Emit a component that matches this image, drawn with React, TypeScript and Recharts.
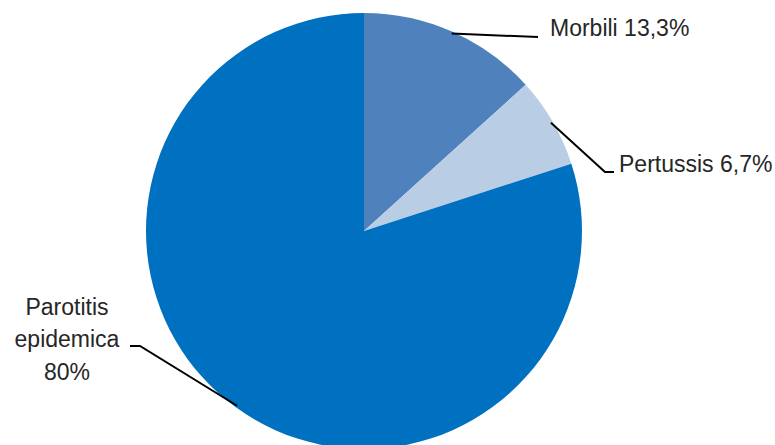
import { PieChart, Pie, Cell } from 'recharts';

// dati della torta
const categories = ['Morbili', 'Pertussis', 'Parotitis epidemica'];
const shares = [13.3, 6.7, 80];
const shareLabels = ['13,3%', '6,7%', '80%'];
const colors = ['#4F81BD', '#B9CDE5', '#0070C0'];

// posizione delle etichette rispetto al centro (px)
const labelLayout = [
  { elbow: [174, -194], tail: 0, textX: 186, lines: [[-195, 'Morbili 13,3%']], anchor: 'start' },
  { elbow: [241, -59], tail: 9, textX: 255, lines: [[-59, 'Pertussis 6,7%']], anchor: 'start' },
  {
    elbow: [-224, 115], tail: -10, textX: -297, anchor: 'middle',
    lines: [[84, 'Parotitis'], [116, 'epidemica'], [149, '80%']],
  },
];

const data = categories.map((name, i) => ({ name, value: shares[i], label: shareLabels[i] }));

const RADIAN = Math.PI / 180;

const renderLabel = (props: any) => {
  const { cx, cy, midAngle, outerRadius, index } = props;
  const lay = labelLayout[index];
  const r = outerRadius - 2;
  const sx = cx + r * Math.cos(-midAngle * RADIAN);
  const sy = cy + r * Math.sin(-midAngle * RADIAN);
  const ex = cx + lay.elbow[0];
  const ey = cy + lay.elbow[1];
  const pts = `${sx},${sy} ${ex},${ey} ${ex + lay.tail},${ey}`;
  return (
    <g key={`lbl-${index}`}>
      <polyline points={pts} fill="none" stroke="#000" strokeWidth={2} />
      {lay.lines.map(([dy, txt]: any, j: number) => (
        <text
          key={j}
          x={cx + lay.textX}
          y={cy + dy}
          textAnchor={lay.anchor as any}
          fill="#262626"
          fontSize={23}
          fontFamily="'Liberation Sans', Arial, sans-serif"
        >
          {txt}
        </text>
      ))}
    </g>
  );
};

export default function App() {
  return (
    <div style={{ position: 'fixed', top: 0, left: 0, width: 775, height: 445, background: '#fff' }}>
      <PieChart width={775} height={445} margin={{ top: 0, right: 0, bottom: 0, left: 0 }}>
        <Pie
          data={data}
          dataKey="value"
          nameKey="name"
          cx={364}
          cy={231}
          outerRadius={218}
          startAngle={90}
          endAngle={-270}
          stroke="none"
          label={renderLabel}
          labelLine={false}
          isAnimationActive={false}
        >
          {data.map((d, i) => (
            <Cell key={d.name} fill={colors[i]} />
          ))}
        </Pie>
      </PieChart>
    </div>
  );
}
